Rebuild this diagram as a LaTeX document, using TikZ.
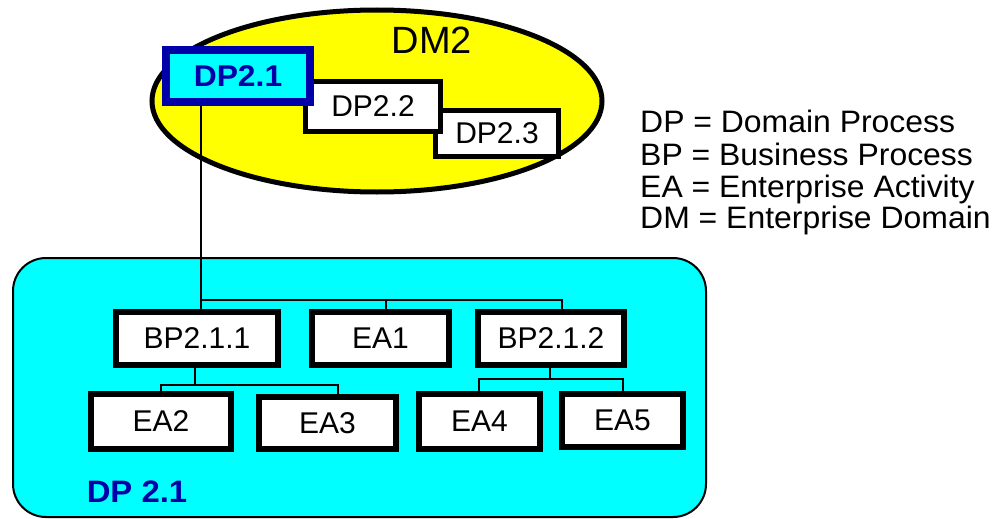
\documentclass[tikz,border=0pt]{standalone}
\usepackage{fontspec}
\setmainfont{Liberation Sans}
\begin{document}
\begin{tikzpicture}[x=1pt,y=-1pt,
  boxtext/.style={font=\fontsize{30}{36}\selectfont},
  wbox/.style={draw=black,fill=white,line width=5.5pt,inner sep=0pt,boxtext},
  conn/.style={draw=black,line width=2pt},
  legend/.style={anchor=base west,inner sep=0pt,font=\fontsize{31}{36}\selectfont}]
\definecolor{dmyellow}{RGB}{255,255,0}
\definecolor{dpcyan}{RGB}{0,255,255}
\definecolor{dpblue}{RGB}{0,0,168}
\newcommand{\wide}[2][1.06]{\scalebox{#1}[1]{#2}}
\useasboundingbox (0,0) rectangle (998,519);

% enterprise domain DM2
\draw[line width=5pt,fill=dmyellow] (377,101) ellipse [x radius=225, y radius=91];
\node[boxtext,font=\fontsize{38}{44}\selectfont] (dm2) at (432,40) {DM2};

% domain processes
\node[wbox,minimum width=123pt,minimum height=46pt] (dp23) at (497,133.5) {DP2.3};
\node[wbox,minimum width=135pt,minimum height=50pt] (dp22) at (373,106.5) {DP2.2};
\node[draw=dpblue,fill=dpcyan,line width=8pt,inner sep=0pt,minimum width=144pt,minimum height=52pt,
      text=dpblue,font=\bfseries\fontsize{30}{34}\selectfont] (dp21) at (238,76) {\wide{DP2.1}};

% detail of DP 2.1
\draw[line width=2pt,fill=dpcyan,rounded corners=33pt] (13,258) rectangle (706,517);
\node[text=dpblue,font=\bfseries\fontsize{31}{36}\selectfont,inner sep=0pt] (dplabel) at (137,492) {\wide{DP 2.1}};

\node[wbox,minimum width=162pt,minimum height=53pt] (bp211) at (197,338.5) {BP2.1.1};
\node[wbox,minimum width=137pt,minimum height=53pt] (ea1) at (380.5,338.5) {EA1};
\node[wbox,minimum width=146pt,minimum height=53pt] (bp212) at (551,338.5) {BP2.1.2};
\node[wbox,minimum width=140pt,minimum height=55pt] (ea2) at (161,421.5) {EA2};
\node[wbox,minimum width=137pt,minimum height=52pt] (ea3) at (327.5,423) {EA3};
\node[wbox,minimum width=121pt,minimum height=55pt] (ea4) at (479.5,421.5) {EA4};
\node[wbox,minimum width=121pt,minimum height=53pt] (ea5) at (622.5,420.5) {EA5};

% tree connectors
\coordinate (bus) at (201,300);
\coordinate (busE) at (562,300);
\coordinate (busM) at (386,300);
\draw[conn] (dp21.south -| bus) -- (bp211.north -| bus);
\draw[conn] (bus) -- (busE) -- (bp212.north -| busE);
\draw[conn] (busM) -- (ea1.north -| busM);

\coordinate (l1) at (195,385);
\coordinate (l1a) at (161,385);
\coordinate (l1b) at (338,385);
\draw[conn] (bp211.south -| l1) -- (l1);
\draw[conn] (ea2.north -| l1a) -- (l1a) -- (l1b) -- (ea3.north -| l1b);

\coordinate (l2) at (550,379);
\coordinate (l2a) at (479,379);
\coordinate (l2b) at (623,379);
\draw[conn] (bp212.south -| l2) -- (l2);
\draw[conn] (ea4.north -| l2a) -- (l2a) -- (l2b) -- (ea5.north -| l2b);

% legend
\node[legend] (lg1) at (640,132) {\wide[1.03]{DP = Domain Process}};
\node[legend] (lg2) at (640,165) {\wide[1.03]{BP = Business Process}};
\node[legend] (lg3) at (640,197) {\wide[1.03]{EA = Enterprise Activity}};
\node[legend] (lg4) at (640,228) {\wide[1.03]{DM = Enterprise Domain}};
\end{tikzpicture}
\end{document}
